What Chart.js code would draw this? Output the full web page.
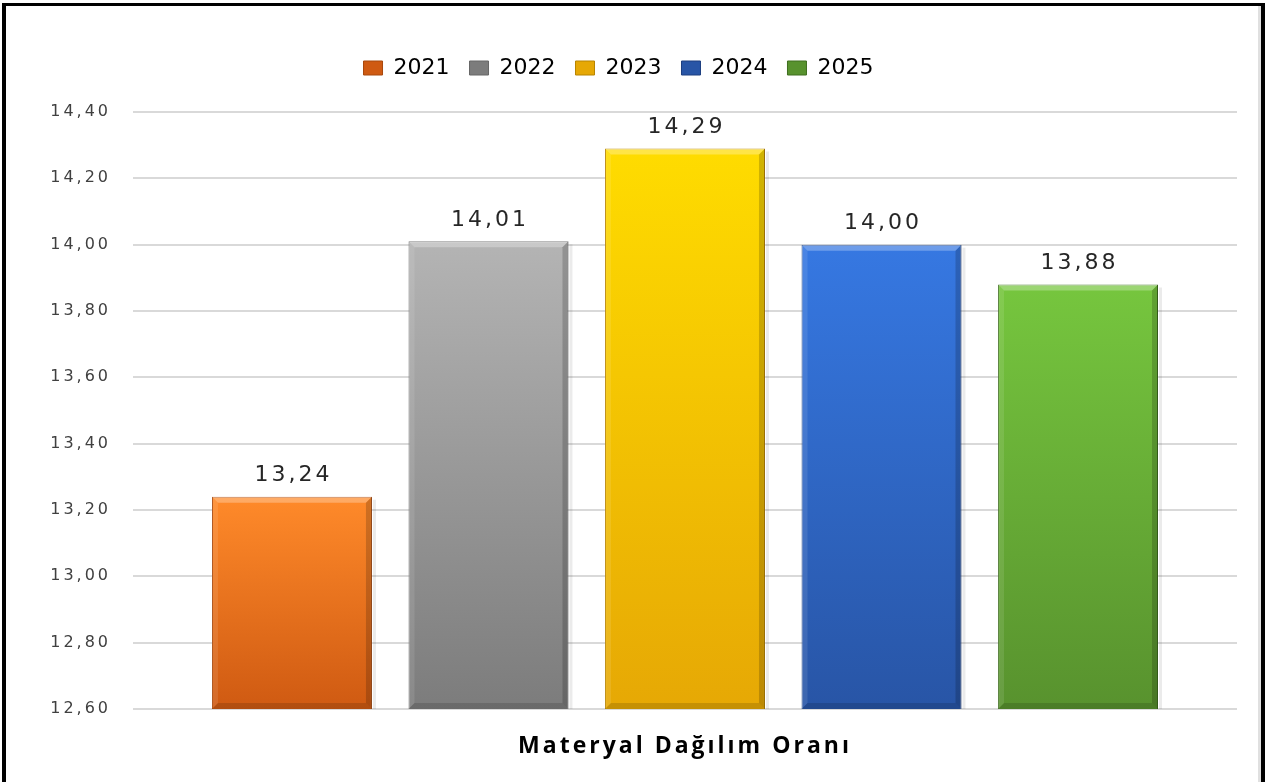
<!DOCTYPE html>
<html>
<head>
<meta charset="utf-8">
<script src="https://cdn.jsdelivr.net/npm/chart.js@4.4.0/dist/chart.umd.min.js"></script>
<style>
  html, body { margin: 0; padding: 0; background: #fff; overflow: hidden; }
  #wrap { position: relative; width: 1266px; height: 782px; }
  #c { position: absolute; left: 0; top: 0; }
  #frame {
    position: absolute; left: 2px; top: 3px; width: 1263px; height: 800px;
    box-sizing: border-box; border: 4px solid #000; border-top-width: 3px; border-bottom: none;
    box-shadow: inset -3px 0 0 #e0e0e0; pointer-events: none;
  }
</style>
</head>
<body>
<div id="wrap">
  <canvas id="c" width="1266" height="782"></canvas>
  <div id="frame"></div>
</div>
<script>
// dữ liệu
const categories = ['Materyal Dağılım Oranı'];
const years = ['2021', '2022', '2023', '2024', '2025'];
const values = [13.24, 14.01, 14.29, 14.00, 13.88];
const yTicks = { min: 12.6, max: 14.4, step: 0.2 };

// màu: [trên, dưới, viền]
const colors = [
  ['#ff8a2a', '#cf5a12', '#a8480c'],
  ['#b4b4b4', '#7c7c7c', '#666666'],
  ['#ffdc00', '#e6a805', '#b88400'],
  ['#3678e2', '#2855a6', '#1d3f80'],
  ['#76c63e', '#58922e', '#3f6e1f']
];

const fmt = v => v.toFixed(2).replace('.', ',');

function barFill(i) {
  return function (ctx) {
    const chart = ctx.chart;
    const area = chart.chartArea;
    if (!area || ctx.type !== 'data') return colors[i][1];
    const y = chart.scales.y.getPixelForValue(ctx.raw);
    const g = chart.ctx.createLinearGradient(0, y, 0, area.bottom);
    g.addColorStop(0, colors[i][0]);
    g.addColorStop(1, colors[i][1]);
    return g;
  };
}

// viền nổi cho cột
const bevelPlugin = {
  id: 'bevel',
  afterDatasetsDraw(chart) {
    const c = chart.ctx;
    const area = chart.chartArea;
    chart.data.datasets.forEach((ds, i) => {
      const meta = chart.getDatasetMeta(i);
      meta.data.forEach(bar => {
        const l = bar.x - bar.width / 2, r = bar.x + bar.width / 2;
        const t = bar.y, b = Math.min(bar.base, area.bottom), d = 6;
        c.save();
        // trên sáng
        c.fillStyle = 'rgba(255,255,255,0.28)';
        c.beginPath(); c.moveTo(l, t); c.lineTo(r, t); c.lineTo(r - d, t + d); c.lineTo(l + d, t + d); c.closePath(); c.fill();
        // trái sáng nhẹ
        c.fillStyle = 'rgba(255,255,255,0.10)';
        c.beginPath(); c.moveTo(l, t); c.lineTo(l + d, t + d); c.lineTo(l + d, b - d); c.lineTo(l, b); c.closePath(); c.fill();
        // phải tối
        c.fillStyle = 'rgba(0,0,0,0.18)';
        c.beginPath(); c.moveTo(r, t); c.lineTo(r, b); c.lineTo(r - d, b - d); c.lineTo(r - d, t + d); c.closePath(); c.fill();
        // dưới tối
        c.fillStyle = 'rgba(0,0,0,0.14)';
        c.beginPath(); c.moveTo(l, b); c.lineTo(r, b); c.lineTo(r - d, b - d); c.lineTo(l + d, b - d); c.closePath(); c.fill();
        // bóng bên phải
        c.fillStyle = 'rgba(0,0,0,0.08)';
        c.fillRect(r + 1, t + 3, 3, b - t - 3);
        c.restore();
      });
    });
  }
};

// nhãn giá trị trên cột
const labelPlugin = {
  id: 'valueLabels',
  afterDatasetsDraw(chart) {
    const c = chart.ctx;
    c.save();
    c.font = '22px "DejaVu Sans"';
    c.textAlign = 'center';
    c.textBaseline = 'bottom';
    c.letterSpacing = '3px';
    chart.data.datasets.forEach((ds, i) => {
      const bar = chart.getDatasetMeta(i).data[0];
      c.fillStyle = '#262626';
      c.fillText(fmt(ds.data[0]), bar.x + 1.5, bar.y - 10);
    });
    c.restore();
  }
};

// giãn chữ trục + khoảng trống dưới chú giải
const spacingPlugin = {
  id: 'tickSpacing',
  afterInit(chart) {
    const lg = chart.legend;
    if (lg && !lg._grown) {
      const fit = lg.fit.bind(lg);
      lg.fit = function () { fit(); this.height += 23; };
      lg._grown = true;
    }
  },
  afterUpdate(chart) {
    [['y', '3px'], ['x', '3px']].forEach(([id, sp]) => {
      const s = chart.scales[id];
      if (s && !s._spaced) {
        const orig = s.drawLabels.bind(s);
        s.drawLabels = function (area) {
          const c = this.ctx;
          c.save();
          c.letterSpacing = sp;
          orig(area);
          c.restore();
        };
        s._spaced = true;
      }
    });
  }
};

const chart = new Chart(document.getElementById('c').getContext('2d'), {
  type: 'bar',
  data: {
    labels: categories,
    datasets: years.map((yr, i) => ({
      label: yr,
      data: [values[i]],
      backgroundColor: barFill(i),
      borderColor: colors[i][2],
      borderWidth: 1,
      categoryPercentage: 0.89,
      barPercentage: 0.814
    }))
  },
  options: {
    responsive: false,
    animation: false,
    layout: { padding: { top: 37, right: 29, bottom: 0, left: 0 } },
    plugins: {
      legend: {
        position: 'top',
        labels: {
          font: { family: 'DejaVu Sans', size: 22 },
          color: '#000',
          boxWidth: 19,
          boxHeight: 14,
          padding: 20,
          generateLabels(chart) {
            return chart.data.datasets.map((ds, i) => ({
              text: ds.label,
              fillStyle: colors[i][1],
              strokeStyle: colors[i][2],
              lineWidth: 1,
              datasetIndex: i
            }));
          }
        }
      },
      tooltip: { enabled: false }
    },
    scales: {
      x: {
        grid: { display: false },
        border: { display: false },
        ticks: {
          font: { family: 'Open Sans', size: 23, weight: 'bold' },
          color: '#000',
          padding: 16
        },
        afterFit(scale) { scale.height = 73; }
      },
      y: {
        min: yTicks.min,
        max: yTicks.max,
        border: { display: false },
        grid: { color: '#d9d9d9', lineWidth: 2, drawTicks: false },
        ticks: {
          stepSize: yTicks.step,
          font: { family: 'DejaVu Sans', size: 16 },
          color: '#404040',
          padding: 22,
          callback: v => fmt(v)
        },
        afterFit(scale) { scale.width = 133; }
      }
    }
  },
  plugins: [bevelPlugin, labelPlugin, spacingPlugin]
});
</script>
</body>
</html>
